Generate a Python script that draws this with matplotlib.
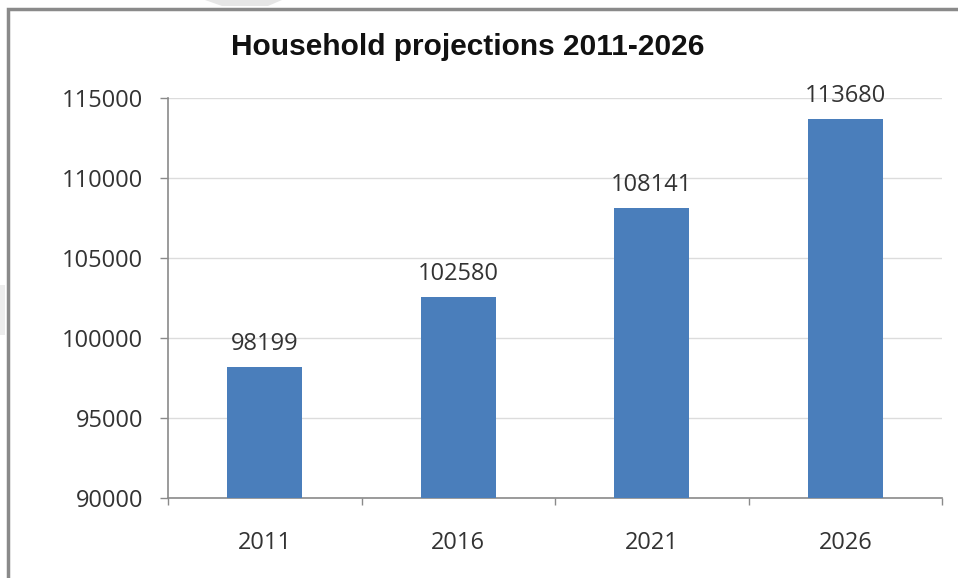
import matplotlib.pyplot as plt
from matplotlib.patches import Rectangle, Polygon

years = ['2011', '2016', '2021', '2026']
households = [98199, 102580, 108141, 113680]
y_ticks = [90000, 95000, 100000, 105000, 110000, 115000]

plt.rcParams['font.family'] = ['Open Sans', 'DejaVu Sans']

fig = plt.figure(figsize=(9.58, 5.78), dpi=100)
W, H = 958, 578

# outer chart frame, runs off the right and bottom edges
fig.patches.append(Rectangle((8 / W, -0.05), 1.1, 1 - 9 / H + 0.05,
                             transform=fig.transFigure, fill=False,
                             edgecolor='#8a8a8a', linewidth=2.5, zorder=0))
# faint grey smudges on the page
fig.patches.append(Polygon([(205 / W, 1.0), (282 / W, 1.0), (268 / W, 1 - 6 / H), (222 / W, 1 - 6 / H)],
                           closed=True, transform=fig.transFigure,
                           facecolor='#e6e6e6', edgecolor='none', zorder=0))
fig.patches.append(Polygon([(0, 1 - 285 / H), (5 / W, 1 - 285 / H), (5 / W, 1 - 335 / H), (0, 1 - 335 / H)],
                           closed=True, transform=fig.transFigure,
                           facecolor='#ececec', edgecolor='none', zorder=0))

ax = fig.add_axes([168 / W, 1 - 498 / H, (942 - 168) / W, (498 - 98) / H])

x = range(len(years))
bars = ax.bar(x, households, width=0.39, color='#4a7ebb', zorder=3)
ax.bar_label(bars, labels=[str(v) for v in households], padding=8,
             fontsize=17, color='#333333')

ax.set_ylim(90000, 115000)
ax.set_xlim(-0.5, len(years) - 0.5)
ax.set_yticks(y_ticks)
ax.set_yticklabels([str(v) for v in y_ticks])
ax.set_xticks(list(x))
ax.set_xticklabels(years)
ax.set_xticks([i - 0.5 for i in range(len(years) + 1)], minor=True)

ax.tick_params(axis='y', length=6, width=1, color='#8a8a8a', labelsize=17,
               labelcolor='#333333', pad=12)
ax.tick_params(axis='x', which='major', length=0, labelsize=17,
               labelcolor='#333333', pad=24)
ax.tick_params(axis='x', which='minor', length=5, width=1, color='#8a8a8a')

ax.grid(axis='y', color='#dcdcdc', linewidth=1, zorder=0)
for side in ['top', 'right']:
    ax.spines[side].set_visible(False)
for side in ['left', 'bottom']:
    ax.spines[side].set_color('#8a8a8a')
    ax.spines[side].set_linewidth(1.2)

fig.text(468 / W, 1 - 47 / H, 'Household projections 2011-2026',
         ha='center', va='center', fontsize=21.5, fontweight='bold',
         family=['Liberation Sans', 'DejaVu Sans'], color='#111111')

fig.savefig('out.png', dpi=100)
